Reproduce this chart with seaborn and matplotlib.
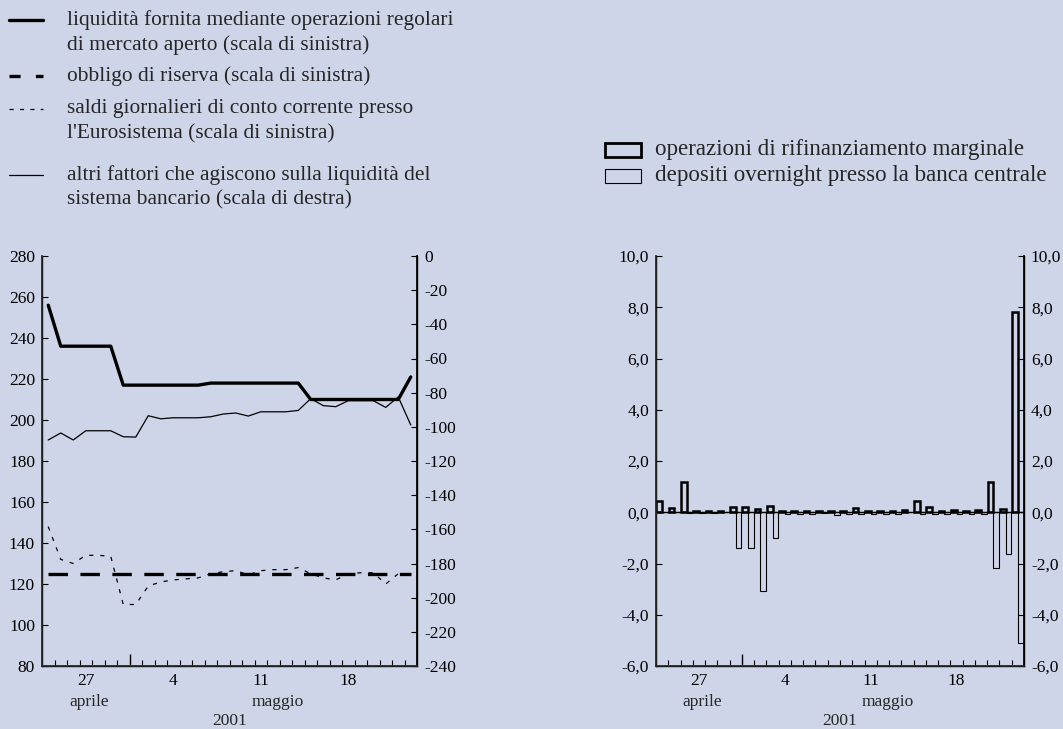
import numpy as np
import pandas as pd
import seaborn as sns
import matplotlib.pyplot as plt
from matplotlib.lines import Line2D
from matplotlib.patches import Rectangle

# giorni dal 24 aprile al 23 maggio 2001
giorni = [24, 25, 26, 27, 28, 29, 30, 1, 2, 3, 4, 5, 6, 7, 8, 9, 10, 11, 12, 13,
          14, 15, 16, 17, 18, 19, 20, 21, 22, 23]
etichette_x = ["27", "4", "11", "18"]

# grafico di sinistra (miliardi di euro)
liquidita_oma = [256, 236, 236, 236, 236, 236, 217, 217, 217, 217, 217, 217, 217, 218, 218,
                 218, 218, 218, 218, 218, 218, 210, 210, 210, 210, 210, 210, 210, 210, 221]
obbligo_riserva = [124.8, 124.8, 124.8, 124.8, 124.8, 124.8, 124.8, 124.8, 124.8, 124.8,
                   124.8, 124.8, 124.8, 124.8, 124.8, 124.8, 124.8, 124.8, 124.8, 124.8,
                   124.8, 124.8, 124.8, 124.8, 124.8, 124.8, 124.8, 124.8, 124.8, 124.8]
saldi_conto = [148, 132, 130, 134, 134, 133.5, 110, 110, 119, 121, 122, 122.5, 123, 125, 126,
               126.5, 124.5, 126.5, 127, 127, 128, 125, 123, 122, 125, 125.5, 125.5, 120, 125, 125]
altri_fattori = [-107.7, -103.6, -107.7, -102.3, -102.3, -102.3, -105.8, -106, -93.5, -95.3,
                 -94.7, -94.7, -94.7, -94.1, -92.5, -91.9, -93.7, -91.2, -91.2, -91.2,
                 -90.4, -83.5, -87.6, -88.2, -84.7, -84.7, -84.7, -88.6, -82.5, -98.9]

# grafico di destra
rifinanziamento = [0.42, 0.18, 1.2, 0.06, 0.06, 0.06, 0.22, 0.22, 0.12, 0.26, 0.05, 0.05, 0.05,
                   0.05, 0.05, 0.05, 0.15, 0.05, 0.05, 0.05, 0.08, 0.44, 0.22, 0.05, 0.07, 0.05,
                   0.07, 1.17, 0.13, 7.83]
depositi = [0, 0, -0.03, -0.02, -0.02, 0, -1.38, -1.38, -3.06, -1.0, -0.08, -0.08, -0.08, -0.02,
            -0.1, -0.08, -0.05, -0.05, -0.08, -0.05, 0, -0.08, -0.05, -0.05, -0.08, -0.08, -0.08,
            -2.16, -1.63, -5.12]

bg = "#cfd5e8"
W, H = 1063, 729

sns.set_theme(style="ticks")
plt.rcParams["font.family"] = ["Liberation Serif", "DejaVu Serif"]
plt.rcParams["axes.unicode_minus"] = False
plt.rcParams["lines.scale_dashes"] = False

fig = plt.figure(figsize=(W / 100, H / 100), dpi=100, facecolor=bg)


def fx(px):
    return px / W


def fy(py):
    return 1 - py / H


def style_axis(ax):
    ax.set_facecolor(bg)
    ax.set_xlim(-0.5, 29.5)
    for s in ["left", "right", "bottom"]:
        ax.spines[s].set_color("black")
        ax.spines[s].set_linewidth(1.0)
    ax.spines["top"].set_visible(False)
    ax.set_xlabel("")
    ax.set_ylabel("")
    ax.set_xticks([3, 10, 17, 24], labels=etichette_x)
    ax.set_xticks(np.arange(0.5, 29.5, 1), minor=True)
    ax.tick_params(axis="x", which="major", length=0, pad=5, labelsize=12.5, colors="black")
    ax.tick_params(axis="x", which="minor", length=4, direction="in", width=0.8, color="black")
    ax.tick_params(axis="y", length=4, direction="in", width=0.8, labelsize=12.5, pad=5, colors="black")
    sec = ax.secondary_xaxis("bottom")
    sec.set_xticks([6.5], labels=[""])
    sec.tick_params(length=9, direction="in", width=1.0, color="black")
    sec.spines["bottom"].set_visible(False)
    ax.text(0.125, -0.087, "aprile", transform=ax.transAxes, ha="center", va="center", fontsize=12.5)
    ax.text(0.63, -0.087, "maggio", transform=ax.transAxes, ha="center", va="center", fontsize=12.5)
    ax.text(0.5, -0.135, "2001", transform=ax.transAxes, ha="center", va="center", fontsize=12.5)


# ---- grafico di sinistra ----
df = pd.DataFrame({"x": np.arange(len(giorni)), "oma": liquidita_oma, "riserva": obbligo_riserva,
                   "saldi": saldi_conto, "altri": altri_fattori})

ax1 = fig.add_axes([fx(42), 1 - 666 / H, 375 / W, 410 / H])
sns.lineplot(data=df, x="x", y="oma", ax=ax1, color="black", linewidth=2.4)
sns.lineplot(data=df, x="x", y="riserva", ax=ax1, color="black", linewidth=2.4)
ax1.lines[-1].set_dashes([14, 9])
sns.lineplot(data=df, x="x", y="saldi", ax=ax1, color="black", linewidth=0.9)
ax1.lines[-1].set_dashes([3, 5])
ax1.set_ylim(80, 280)
ax1.set_yticks(range(80, 281, 20))
style_axis(ax1)

ax1b = ax1.twinx()
sns.lineplot(data=df, x="x", y="altri", ax=ax1b, color="black", linewidth=0.9)
ax1b.set_ylim(-240, 0)
ax1b.set_yticks(range(-240, 1, 20))
ax1b.set_ylabel("")
ax1b.spines["top"].set_visible(False)
ax1b.spines["right"].set_color("black")
ax1b.tick_params(axis="y", length=4, direction="in", width=0.8, labelsize=12.5, pad=5, colors="black")

# ---- grafico di destra ----
serie = ["operazioni di rifinanziamento marginale", "depositi overnight presso la banca centrale"]
df_bar = pd.DataFrame({
    "x": list(range(len(giorni))) * 2,
    "valore": rifinanziamento + depositi,
    "serie": [serie[0]] * len(giorni) + [serie[1]] * len(giorni),
})

ax2 = fig.add_axes([fx(656), 1 - 666 / H, 368 / W, 410 / H])
sns.barplot(data=df_bar, x="x", y="valore", hue="serie", ax=ax2, width=0.92,
            palette=["black", "black"], legend=False)
for cont, lw in zip(ax2.containers, [1.8, 0.8]):
    for bar in cont:
        bar.set_facecolor("none")
        bar.set_edgecolor("black")
        bar.set_linewidth(lw)
ax2.axhline(0, color="black", linewidth=1.0, zorder=0)
ax2.set_ylim(-6, 10)
ax2.set_yticks(np.arange(-6, 10.1, 2))
fmt = plt.FuncFormatter(lambda v, p: f"{v:.1f}".replace(".", ","))
ax2.yaxis.set_major_formatter(fmt)
style_axis(ax2)

ax2b = ax2.twinx()
ax2b.set_ylim(-6, 10)
ax2b.set_yticks(np.arange(-6, 10.1, 2))
ax2b.yaxis.set_major_formatter(fmt)
ax2b.spines["top"].set_visible(False)
ax2b.spines["right"].set_color("black")
ax2b.tick_params(axis="y", length=4, direction="in", width=0.8, labelsize=12.5, pad=5, colors="black")

# ---- legende ----
legenda_sx = [
    (2.4, None, 20, ["liquidità fornita mediante operazioni regolari",
                     "di mercato aperto (scala di sinistra)"]),
    (2.4, [8, 11], 76, ["obbligo di riserva (scala di sinistra)"]),
    (0.9, [3, 4.5], 109, ["saldi giornalieri di conto corrente presso",
                          "l'Eurosistema (scala di sinistra)"]),
    (0.9, None, 175, ["altri fattori che agiscono sulla liquidità del",
                      "sistema bancario (scala di destra)"]),
]
for lw, dashes, y, righe in legenda_sx:
    ln = Line2D([fx(9), fx(43)], [fy(y), fy(y)], color="black", linewidth=lw,
                transform=fig.transFigure)
    if dashes is not None:
        ln.set_dashes(dashes)
    fig.add_artist(ln)
    for i, r in enumerate(righe):
        fig.text(fx(67), fy(y + 25 * i), r, ha="left", va="center", fontsize=15.4)

for i, (lw, y) in enumerate([(2.0, 150), (0.8, 176)]):
    fig.add_artist(Rectangle((fx(605), fy(y + 7)), 36 / W, 14 / H, facecolor="none",
                             edgecolor="black", linewidth=lw, transform=fig.transFigure))
    fig.text(fx(655), fy(y), serie[i], ha="left", va="center", fontsize=16.6)

fig.savefig("out.png", dpi=100, facecolor=bg)
